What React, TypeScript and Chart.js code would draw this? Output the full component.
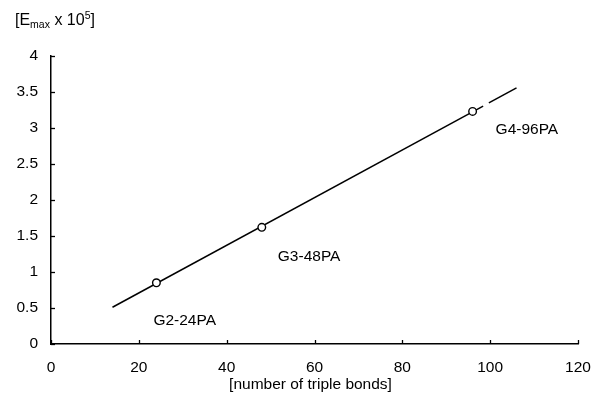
import React, { useEffect, useRef } from "react";
import { Chart, registerables } from "chart.js";

Chart.register(...registerables);

const tripleBonds = [24, 48, 96];
const emax = [0.85, 1.62, 3.23];
const pointLabels = ["G2-24PA", "G3-48PA", "G4-96PA"];
const fitX1 = [14, 98.4];
const fitY1 = [0.51, 3.305];
const fitX2 = [99.7, 106];
const fitY2 = [3.348, 3.557];
const xTicks = [0, 20, 40, 60, 80, 100, 120];
const yTicks = [0, 0.5, 1, 1.5, 2, 2.5, 3, 3.5, 4];
const xTitle = "[number of triple bonds]";

const labelOffsets = [
  [-3, 38],
  [16, 29],
  [23, 18],
];

const FONT = "'Liberation Sans', Arial, sans-serif";
const FS = 15.5;

const decor = {
  id: "decor",
  afterDraw(chart: any) {
    const ctx = chart.ctx as CanvasRenderingContext2D;
    const xs = chart.scales.x;
    const ys = chart.scales.y;
    const area = chart.chartArea;
    ctx.save();
    ctx.strokeStyle = "#000";
    ctx.lineWidth = 1.3;
    xs.ticks.forEach((t: any) => {
      const px = Math.round(xs.getPixelForValue(t.value)) + 0.5;
      ctx.beginPath();
      ctx.moveTo(px, area.bottom);
      ctx.lineTo(px, area.bottom - 4);
      ctx.stroke();
    });
    ys.ticks.forEach((t: any) => {
      const py = Math.round(ys.getPixelForValue(t.value)) + 0.5;
      ctx.beginPath();
      ctx.moveTo(area.left, py);
      ctx.lineTo(area.left + 4, py);
      ctx.stroke();
    });
    ctx.fillStyle = "#000";
    ctx.font = `${FS}px ${FONT}`;
    ctx.textBaseline = "middle";
    ctx.textAlign = "left";
    pointLabels.forEach((lab, i) => {
      const px = xs.getPixelForValue(tripleBonds[i]);
      const py = ys.getPixelForValue(emax[i]);
      ctx.fillText(lab, px + labelOffsets[i][0], py + labelOffsets[i][1]);
    });
    ctx.textAlign = "center";
    ctx.fillText(xTitle, (area.left + area.right) / 2 - 4, 385);
    ctx.textAlign = "left";
    let x = 15;
    const y = 21;
    const seg = (txt: string, size: number, dy: number) => {
      ctx.font = `${size}px ${FONT}`;
      ctx.fillText(txt, x, y + dy);
      x += ctx.measureText(txt).width;
    };
    seg("[E", 16, 0);
    seg("max", 10.5, 4);
    seg(" x 10", 16, 0);
    seg("5", 10.5, -5);
    seg("]", 16, 0);
    ctx.restore();
  },
};

export default function App() {
  const ref = useRef<HTMLCanvasElement>(null);
  useEffect(() => {
    if (!ref.current) return;
    const chart = new Chart(ref.current, {
      type: "scatter",
      data: {
        datasets: [
          {
            data: tripleBonds.map((v, i) => ({ x: v, y: emax[i] })),
            pointRadius: 3.8,
            pointBackgroundColor: "#fff",
            pointBorderColor: "#000",
            pointBorderWidth: 1.4,
            showLine: false,
          },
          {
            data: fitX1.map((v, i) => ({ x: v, y: fitY1[i] })),
            showLine: true,
            borderColor: "#000",
            borderWidth: 1.5,
            pointRadius: 0,
          },
          {
            data: fitX2.map((v, i) => ({ x: v, y: fitY2[i] })),
            showLine: true,
            borderColor: "#000",
            borderWidth: 1.5,
            pointRadius: 0,
          },
        ],
      },
      options: {
        animation: false,
        responsive: true,
        maintainAspectRatio: false,
        layout: { padding: { left: 0, top: 56, right: 18, bottom: 0 } },
        plugins: { legend: { display: false }, tooltip: { enabled: false } },
        scales: {
          x: {
            type: "linear",
            min: 0,
            max: 120,
            afterBuildTicks: (s: any) => {
              s.ticks = xTicks.map((v) => ({ value: v }));
            },
            afterFit: (s: any) => {
              s.height = 58;
              s.paddingLeft = 0;
              s.paddingRight = 0;
            },
            grid: { display: false, drawTicks: false },
            border: { display: true, color: "#000", width: 1.5 },
            ticks: {
              color: "#000",
              font: { family: FONT, size: FS },
              padding: 14,
              maxRotation: 0,
            },
          },
          y: {
            type: "linear",
            min: 0,
            max: 4,
            afterBuildTicks: (s: any) => {
              s.ticks = yTicks.map((v) => ({ value: v }));
            },
            afterFit: (s: any) => {
              s.width = 51;
              s.paddingTop = 0;
              s.paddingBottom = 0;
            },
            grid: { display: false, drawTicks: false },
            border: { display: true, color: "#000", width: 1.5 },
            ticks: {
              color: "#000",
              font: { family: FONT, size: FS },
              padding: 13,
              callback: (v: any) => String(v),
            },
          },
        },
      },
      plugins: [decor],
    });
    return () => chart.destroy();
  }, []);
  return (
    <div style={{ position: "absolute", left: 0, top: 0, width: 596, height: 402, background: "#fff" }}>
      <canvas ref={ref} />
    </div>
  );
}
